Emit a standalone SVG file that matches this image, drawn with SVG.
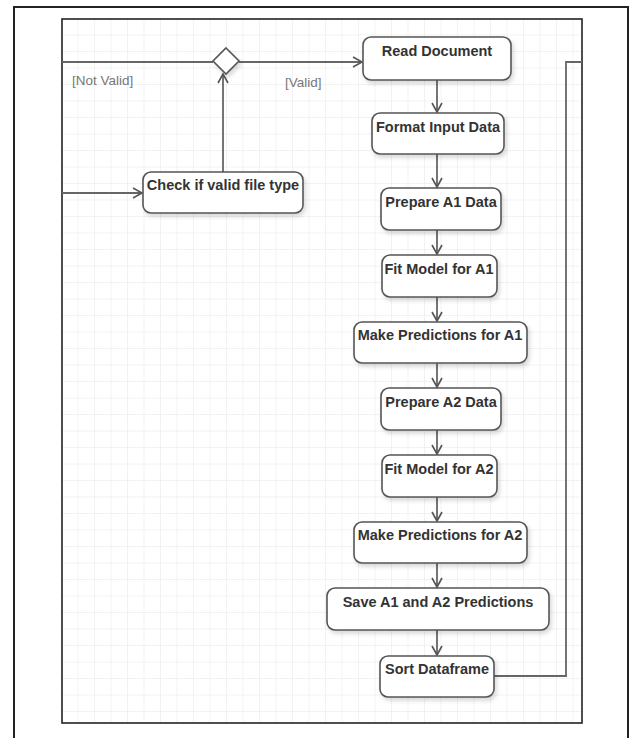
<svg xmlns="http://www.w3.org/2000/svg" width="632" height="738" viewBox="0 0 632 738">
<style>
.node rect{fill:#fff;stroke:#555;stroke-width:1.6;filter:url(#sh)}
.node text{font-family:"Liberation Sans",Arial,sans-serif;font-weight:bold;font-size:14.5px;fill:#333;text-anchor:middle}
.lbl{font-family:"Liberation Sans",Arial,sans-serif;font-size:13.5px;fill:#777}
#connectors path{fill:none;stroke:#666;stroke-width:1.8}
</style>
<defs>
<pattern id="grid" x="62" y="19" width="16.5" height="16.5" patternUnits="userSpaceOnUse">
<path d="M16.5 0V16.5M0 16.5H16.5" fill="none" stroke="#e6e6e6" stroke-width="1"/>
</pattern>
<filter id="sh" x="-10%" y="-20%" width="125%" height="150%">
<feDropShadow dx="2" dy="3" stdDeviation="2" flood-color="#000" flood-opacity="0.15"/>
</filter>
<marker id="arr" markerUnits="userSpaceOnUse" markerWidth="12" markerHeight="14" refX="10" refY="6" orient="auto">
<path d="M1,1 L10,6 L1,11" fill="none" stroke="#555" stroke-width="1.6"/>
</marker>
</defs>
<rect x="0" y="0" width="632" height="738" fill="#fff"/>
<rect x="14" y="7" width="614" height="740" fill="none" stroke="#222" stroke-width="2"/>
<rect x="62" y="19" width="520" height="704" fill="url(#grid)" stroke="#222" stroke-width="1.6"/>

<g id="connectors">
<path d="M62,62 H213"/>
<path d="M239,62 H362" marker-end="url(#arr)"/>
<path d="M223,172 V74" marker-end="url(#arr)"/>
<path d="M62,193 H142" marker-end="url(#arr)"/>
<path d="M437,80 V112" marker-end="url(#arr)"/>
<path d="M437,154 V187" marker-end="url(#arr)"/>
<path d="M437,230 V254" marker-end="url(#arr)"/>
<path d="M437,297 V321" marker-end="url(#arr)"/>
<path d="M437,363 V387" marker-end="url(#arr)"/>
<path d="M437,430 V454" marker-end="url(#arr)"/>
<path d="M437,497 V521" marker-end="url(#arr)"/>
<path d="M437,563 V587" marker-end="url(#arr)"/>
<path d="M437,630 V655" marker-end="url(#arr)"/>
<path d="M494,676 H566 V62 H582"/>
<text class="lbl" x="72" y="85">[Not Valid]</text>
<text class="lbl" x="285" y="87">[Valid]</text>
</g>

<g id="decision">
<path d="M226,48 L239,61 L226,74 L213,61 Z" fill="#fff" stroke="#555" stroke-width="1.6" filter="url(#sh)"/>
</g>
<g id="check" class="node"><rect x="143" y="172" width="160" height="41" rx="8"/><text x="223" y="190">Check if valid file type</text></g>
<g id="read" class="node"><rect x="363" y="37" width="148" height="43" rx="8"/><text x="437" y="56">Read Document</text></g>
<g id="format" class="node"><rect x="372" y="113" width="132" height="41" rx="8"/><text x="438" y="132">Format Input Data</text></g>
<g id="prepA1" class="node"><rect x="381" y="188" width="120" height="42" rx="8"/><text x="441" y="207">Prepare A1 Data</text></g>
<g id="fitA1" class="node"><rect x="382" y="255" width="115" height="42" rx="8"/><text x="439" y="274">Fit Model for A1</text></g>
<g id="predA1" class="node"><rect x="354" y="322" width="173" height="41" rx="8"/><text x="440" y="340">Make Predictions for A1</text></g>
<g id="prepA2" class="node"><rect x="381" y="388" width="120" height="42" rx="8"/><text x="441" y="407">Prepare A2 Data</text></g>
<g id="fitA2" class="node"><rect x="382" y="455" width="115" height="42" rx="8"/><text x="439" y="474">Fit Model for A2</text></g>
<g id="predA2" class="node"><rect x="354" y="522" width="173" height="41" rx="8"/><text x="440" y="540">Make Predictions for A2</text></g>
<g id="save" class="node"><rect x="327" y="588" width="222" height="42" rx="8"/><text x="438" y="607">Save A1 and A2 Predictions</text></g>
<g id="sort" class="node"><rect x="380" y="656" width="114" height="41" rx="8"/><text x="437" y="674">Sort Dataframe</text></g>
</svg>
